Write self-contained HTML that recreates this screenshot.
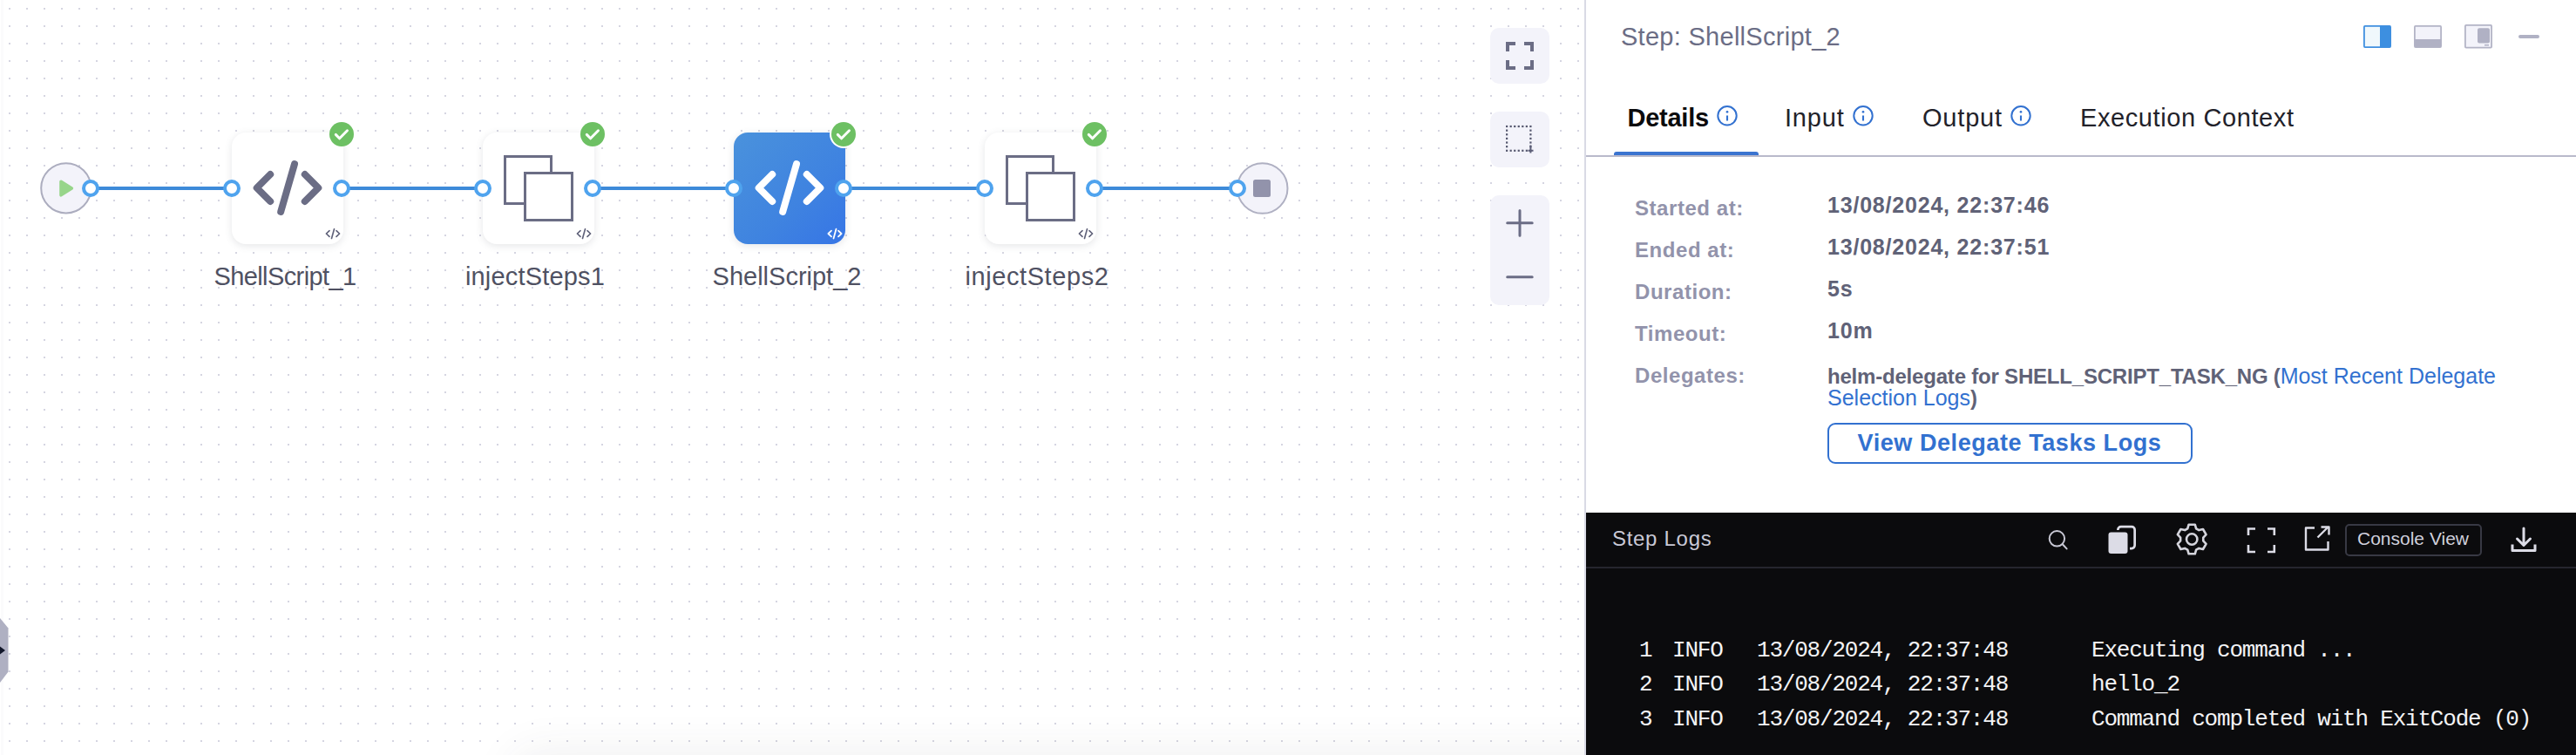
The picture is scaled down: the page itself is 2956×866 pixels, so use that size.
<!DOCTYPE html>
<html><head><meta charset="utf-8">
<style>
*{box-sizing:border-box;margin:0;padding:0}
html,body{width:2956px;height:866px;overflow:hidden;background:#fff;font-family:"Liberation Sans",sans-serif}
.abs{position:absolute}
#canvas{position:absolute;left:0;top:0;width:1818px;height:866px;background:#fff;overflow:hidden}
.card{position:absolute;top:152px;width:128px;height:128px;border-radius:16px;background:#fff;box-shadow:0 2px 8px rgba(96,97,112,0.16)}
.lbl{position:absolute;top:301px;width:260px;text-align:center;font-size:29px;color:#4f5162;white-space:nowrap;letter-spacing:-0.3px}
.badge{position:absolute;width:28px;height:28px}
.tbtn{position:absolute;left:1710px;width:68px;background:#f3f3fa;border-radius:10px}
#panel{position:absolute;left:1818px;top:0;width:1138px;height:866px;background:#fff;border-left:2px solid #d9dae5}
.tab{position:absolute;top:119px;font-size:29px;color:#22222a;white-space:nowrap}
.k{position:absolute;left:56px;font-size:24px;font-weight:700;color:#9293ab;white-space:nowrap;letter-spacing:0.55px}
.v{position:absolute;left:277px;font-size:25px;font-weight:700;color:#606277;white-space:nowrap;letter-spacing:0.8px}
#logs{position:absolute;left:0;top:588px;width:1136px;height:278px;background:#0b0b0d}
.ln{position:absolute;font-family:"Liberation Mono",monospace;font-size:26px;letter-spacing:-1.2px;color:#f3f3f5;white-space:pre}
</style></head><body>
<div id="canvas">
<svg class="abs" style="left:0;top:0" width="1818" height="866">
<defs><pattern id="dots" x="10" y="9" width="20" height="20" patternUnits="userSpaceOnUse"><rect width="2" height="2" fill="#d5d5e1"/></pattern>
<linearGradient id="bfade" x1="0" y1="0" x2="0" y2="1"><stop offset="0" stop-color="#f3f3f3" stop-opacity="0"/><stop offset="1" stop-color="#f1f1f3" stop-opacity="1"/></linearGradient></defs>
<rect width="1818" height="866" fill="url(#dots)"/>
<rect x="1" y="0" width="3" height="866" fill="#fbfbfc"/>
<!-- connector lines -->
<g fill="#3d8ad9">
<rect x="104" y="214" width="162" height="4"/>
<rect x="394" y="214" width="160" height="4"/>
<rect x="682" y="214" width="160" height="4"/>
<rect x="970" y="214" width="160" height="4"/>
<rect x="1258" y="214" width="162" height="4"/>
</g>
<!-- start node -->
<circle cx="75.8" cy="215.8" r="28.6" fill="#f3f3fa" stroke="#acadbf" stroke-width="2"/>
<path d="M70 208.2 L82.3 216 L70 223.8 Z" fill="#97d58a" stroke="#97d58a" stroke-width="3.6" stroke-linejoin="round"/>
<!-- end node -->
<circle cx="1448.7" cy="216" r="28.8" fill="#f3f3fa" stroke="#afb0c2" stroke-width="2"/>
<rect x="1438" y="206" width="20" height="20" rx="2.5" fill="#9293ab"/>
</svg>

<div class="card" style="left:266px"></div>
<div class="card" style="left:554px"></div>
<div class="card" style="left:842px;background:linear-gradient(135deg,#4a92dc 0%,#3f83e0 60%,#3675e6 100%);border-top-right-radius:0"></div>
<div class="card" style="left:1130px"></div>

<svg class="abs" style="left:0;top:0" width="1818" height="866">
<defs>
<g id="code"><path d="M-19.8 -15.5 L-35.3 0 L-19.8 15.5 M19.8 -15.5 L35.3 0 L19.8 15.5 M8 -27.3 L-7.8 27.3" stroke-linecap="round" stroke-linejoin="round" fill="none"/></g>
<g id="minicode"><path d="M-4 -3.4 L-7.6 0 L-4 3.4 M4 -3.4 L7.6 0 L4 3.4 M1.5 -5.3 L-1.5 5.5" stroke-linecap="round" stroke-linejoin="round" fill="none"/></g>
<g id="sq"><rect x="1.5" y="1.5" width="53" height="54" fill="none" stroke-width="3"/><rect x="24.5" y="20.5" width="54" height="54" fill="#fff" stroke-width="3"/></g>
<g id="port"><circle r="8" fill="#fff" stroke="#4fa3ee" stroke-width="4"/></g>
<g id="chk"><circle r="14" fill="#6dc063"/><path d="M-6.7 0.4 L-2.4 4.8 L6.5 -4.2" stroke="#fff" stroke-width="3" fill="none" stroke-linecap="round" stroke-linejoin="round"/></g>
</defs>
<!-- node1 icon -->
<use href="#code" x="330" y="215.5" stroke="#6b6d85" stroke-width="8"/>
<use href="#minicode" x="382" y="268" stroke="#5f6179" stroke-width="1.65"/>
<!-- node2 icon -->
<use href="#sq" x="578" y="178" stroke="#6b6d85"/>
<use href="#minicode" x="670" y="268" stroke="#5f6179" stroke-width="1.65"/>
<!-- node3 icon -->
<use href="#code" x="906" y="215.5" stroke="#fff" stroke-width="8"/>
<use href="#minicode" x="958" y="268" stroke="#fff" stroke-width="1.8"/>
<!-- node4 icon -->
<use href="#sq" x="1154" y="178" stroke="#6b6d85"/>
<use href="#minicode" x="1246" y="268" stroke="#5f6179" stroke-width="1.65"/>
<!-- ports -->
<use href="#port" x="104" y="216"/>
<use href="#port" x="266" y="216"/><use href="#port" x="392" y="216"/>
<use href="#port" x="554" y="216"/><use href="#port" x="680" y="216"/>
<use href="#port" x="842" y="216"/><use href="#port" x="968" y="216"/>
<use href="#port" x="1130" y="216"/><use href="#port" x="1256" y="216"/>
<use href="#port" x="1420" y="216"/>
<!-- badges -->
<use href="#chk" x="392" y="154"/>
<use href="#chk" x="680" y="154"/>
<circle cx="968" cy="154" r="16" fill="#fff"/>
<use href="#chk" x="968" y="154"/>
<use href="#chk" x="1256" y="154"/>
</svg>

<div class="lbl" style="left:197px;letter-spacing:-0.6px">ShellScript_1</div>
<div class="lbl" style="left:484px;letter-spacing:0.18px">injectSteps1</div>
<div class="lbl" style="left:773px;letter-spacing:0px">ShellScript_2</div>
<div class="lbl" style="left:1060px;letter-spacing:0.58px">injectSteps2</div>

<div class="abs" style="left:600px;top:876px;width:1400px;height:40px;border-radius:30px;box-shadow:0 0 50px 16px rgba(50,50,70,0.07)"></div>
<!-- toolbar -->
<div class="tbtn" style="top:32px;height:64px"></div>
<div class="tbtn" style="top:128px;height:64px"></div>
<div class="tbtn" style="top:224px;height:126px"></div>
<svg class="abs" style="left:1700px;top:0" width="100" height="360">
<path d="M30 59 V50 H39 M49 50 H58 V59 M58 69 V78 H49 M39 78 H30 V69" stroke="#6b6d85" stroke-width="4" fill="none"/>
<g fill="#55576e"><rect x="28.00" y="143.90" width="2.2" height="2.2"/><rect x="28.00" y="148.53" width="2.2" height="2.2"/><rect x="28.00" y="153.17" width="2.2" height="2.2"/><rect x="28.00" y="157.80" width="2.2" height="2.2"/><rect x="28.00" y="162.43" width="2.2" height="2.2"/><rect x="28.00" y="167.07" width="2.2" height="2.2"/><rect x="28.00" y="171.70" width="2.2" height="2.2"/><rect x="32.55" y="143.90" width="2.2" height="2.2"/><rect x="32.55" y="171.70" width="2.2" height="2.2"/><rect x="37.10" y="143.90" width="2.2" height="2.2"/><rect x="37.10" y="171.70" width="2.2" height="2.2"/><rect x="41.65" y="143.90" width="2.2" height="2.2"/><rect x="41.65" y="171.70" width="2.2" height="2.2"/><rect x="46.20" y="143.90" width="2.2" height="2.2"/><rect x="46.20" y="171.70" width="2.2" height="2.2"/><rect x="50.75" y="143.90" width="2.2" height="2.2"/><rect x="50.75" y="171.70" width="2.2" height="2.2"/><rect x="55.30" y="143.90" width="2.2" height="2.2"/><rect x="55.30" y="148.53" width="2.2" height="2.2"/><rect x="55.30" y="153.17" width="2.2" height="2.2"/><rect x="55.30" y="157.80" width="2.2" height="2.2"/><rect x="55.30" y="162.43" width="2.2" height="2.2"/><rect x="55.30" y="167.07" width="2.2" height="2.2"/><rect x="55.30" y="171.70" width="2.2" height="2.2"/></g><path d="M56.4 166.5 V175.5 M53.5 172.8 H59.5" stroke="#5d5f78" stroke-width="2" fill="none"/>
<path d="M29.7 255.8 H58.2 M44 241.4 V270.2 M29.7 317.8 H58.2" stroke="#6b6d85" stroke-width="3" stroke-linecap="round"/>
</svg>

<!-- sidebar handle -->
<svg class="abs" style="left:0;top:700px" width="20" height="100">
<path d="M0 9 L9.5 20.5 V70.5 L0 83 Z" fill="#afb0c2"/>
<path d="M0 41.5 L6 46 L0 50.5 Z" fill="#111629"/>
</svg>
</div>

<div id="panel">
<div class="abs" style="left:40px;top:26px;font-size:29px;color:#6b6d85;white-space:nowrap;letter-spacing:0.28px">Step: ShellScript_2</div>


<svg class="abs" style="left:0;top:0" width="1136" height="200">
<defs><g id="info"><circle r="10.7" fill="none" stroke="#3271d0" stroke-width="2"/><rect x="-1.05" y="-0.3" width="2.1" height="6" fill="#3271d0"/><circle cx="0" cy="-4.5" r="1.35" fill="#3271d0"/></g></defs>
<use href="#info" x="162" y="132.8"/>
<use href="#info" x="318" y="132.8"/>
<use href="#info" x="499" y="132.8"/>
<!-- layout icons -->
<rect x="892.9" y="29.9" width="30.2" height="24.2" rx="1" fill="#f0f8fc" stroke="#3f8fdf" stroke-width="1.8"/>
<rect x="911" y="30" width="12" height="24" fill="#3d8fe0"/>
<rect x="950.9" y="29.9" width="30.2" height="24.2" rx="1" fill="#f3f3fa" stroke="#b3b4c6" stroke-width="1.8"/>
<rect x="951" y="45" width="30" height="9" fill="#b0b1c4"/>
<rect x="1008.9" y="28.9" width="30.2" height="25.7" rx="1" fill="#f3f3fa" stroke="#b3b4c6" stroke-width="1.8"/>
<rect x="1023" y="32.2" width="14" height="17.3" rx="2" fill="#b0b1c4"/>
<rect x="1031" y="51" width="5" height="1.5" fill="#b0b1c4"/>
<rect x="1070" y="40" width="24" height="4" rx="2" fill="#b0b1c4"/>
</svg>
<div class="tab" style="left:47.5px;font-weight:700;color:#0b0b0d;letter-spacing:-0.25px">Details</div>
<div class="tab" style="left:228px;letter-spacing:0.8px">Input</div>
<div class="tab" style="left:386px;letter-spacing:0.8px">Output</div>
<div class="tab" style="left:567px;letter-spacing:0.6px">Execution Context</div>
<div class="abs" style="left:32px;top:174px;width:166px;height:5px;background:#3b74d0;border-radius:3px 3px 0 0"></div>
<div class="abs" style="left:0;top:178px;width:1136px;height:2px;background:#b9bacb"></div>

<div class="k" style="top:225px">Started at:</div>
<div class="k" style="top:273px">Ended at:</div>
<div class="k" style="top:321px">Duration:</div>
<div class="k" style="top:369px">Timeout:</div>
<div class="k" style="top:417px">Delegates:</div>
<div class="v" style="top:221px">13/08/2024, 22:37:46</div>
<div class="v" style="top:269px">13/08/2024, 22:37:51</div>
<div class="v" style="top:317px">5s</div>
<div class="v" style="top:365px">10m</div>
<div class="v" style="top:419px;line-height:24px;letter-spacing:0"><span style="font-size:24px;letter-spacing:-0.2px">helm-delegate for SHELL_SCRIPT_TASK_NG (</span><span style="color:#3271d0;font-weight:400">Most Recent Delegate<br>Selection Logs</span><span style="font-size:24px">)</span></div>
<div class="abs" style="left:276.5px;top:484.5px;width:419px;height:47px;border:2px solid #3271d0;border-radius:9px;color:#3271d0;font-size:27px;font-weight:700;text-align:center;line-height:43px;white-space:nowrap;letter-spacing:0.57px">View Delegate Tasks Logs</div>

<div id="logs">
<div class="abs" style="left:30px;top:16px;font-size:24px;color:#c9c9d6;white-space:nowrap;letter-spacing:0.7px">Step Logs</div>

<svg class="abs" style="left:0;top:0" width="1136" height="64">
<g stroke="#c8c8d4" fill="none" stroke-width="2">
<circle cx="540.4" cy="29.8" r="8.7"/><path d="M546.8 36.2 L551.6 41.4" stroke-linecap="round"/>
</g>
<rect x="610.35" y="16.15" width="19.3" height="24.9" rx="3.5" fill="none" stroke="#dcdce6" stroke-width="2.7"/>
<rect x="597" y="20" width="27" height="29.5" rx="4" fill="#0b0b0d"/>
<rect x="599.5" y="22.5" width="22" height="24.5" rx="3" fill="#dcdce6"/>
<g transform="translate(695.2,30.5)" fill="none" stroke="#d4d4dc" stroke-width="2.6">
<path d="M-4.94,-12.24 L-3.58,-16.82 L3.58,-16.82 L4.94,-12.24 L8.13,-10.40 L12.78,-11.51 L16.36,-5.32 L13.07,-1.84 L13.07,1.84 L16.36,5.32 L12.78,11.51 L8.13,10.40 L4.94,12.24 L3.58,16.82 L-3.58,16.82 L-4.94,12.24 L-8.13,10.40 L-12.78,11.51 L-16.36,5.32 L-13.07,1.84 L-13.07,-1.84 L-16.36,-5.32 L-12.78,-11.51 L-8.13,-10.40 Z" stroke-linejoin="round"/>
<circle cx="0" cy="0" r="6.2"/>
</g>
<path d="M760 26 V18.5 H768 M782 18.5 H789.8 V26 M789.8 37 V45 H782 M768 45 H760 V37" stroke="#dcdce6" stroke-width="2.6" fill="none"/>
<path d="M836 17.5 H826 V42.5 H851.5 V33 M839.5 28.5 L851.5 16.5 M843.5 16.5 H852.5 V25.5" stroke="#dcdce6" stroke-width="2.4" fill="none" stroke-linejoin="round"/>
<rect x="872" y="14" width="155" height="35" rx="4" fill="none" stroke="#383944" stroke-width="2"/>
<path d="M1076 18 V37 M1068.5 30 L1076 37.5 L1083.5 30" stroke="#dcdce6" stroke-width="3" fill="none" stroke-linecap="round" stroke-linejoin="round"/>
<path d="M1063 36.5 V43.5 H1089 V36.5" stroke="#dcdce6" stroke-width="3" fill="none" stroke-linejoin="round"/>
</svg>
<div class="abs" style="left:885px;top:18px;font-size:21px;color:#d0d0dc;white-space:nowrap">Console View</div>
<div class="abs" style="left:0;top:62px;width:1136px;height:2px;background:#26262e"></div>
<div class="ln" style="left:61px;top:143px">1</div>
<div class="ln" style="left:61px;top:182px">2</div>
<div class="ln" style="left:61px;top:222px">3</div>
<div class="ln" style="left:99px;top:143px">INFO</div>
<div class="ln" style="left:99px;top:182px">INFO</div>
<div class="ln" style="left:99px;top:222px">INFO</div>
<div class="ln" style="left:196px;top:143px">13/08/2024, 22:37:48</div>
<div class="ln" style="left:196px;top:182px">13/08/2024, 22:37:48</div>
<div class="ln" style="left:196px;top:222px">13/08/2024, 22:37:48</div>
<div class="ln" style="left:580px;top:143px">Executing command ...</div>
<div class="ln" style="left:580px;top:182px">hello_2</div>
<div class="ln" style="left:580px;top:222px">Command completed with ExitCode (0)</div>
</div>
</div>
</body></html>
